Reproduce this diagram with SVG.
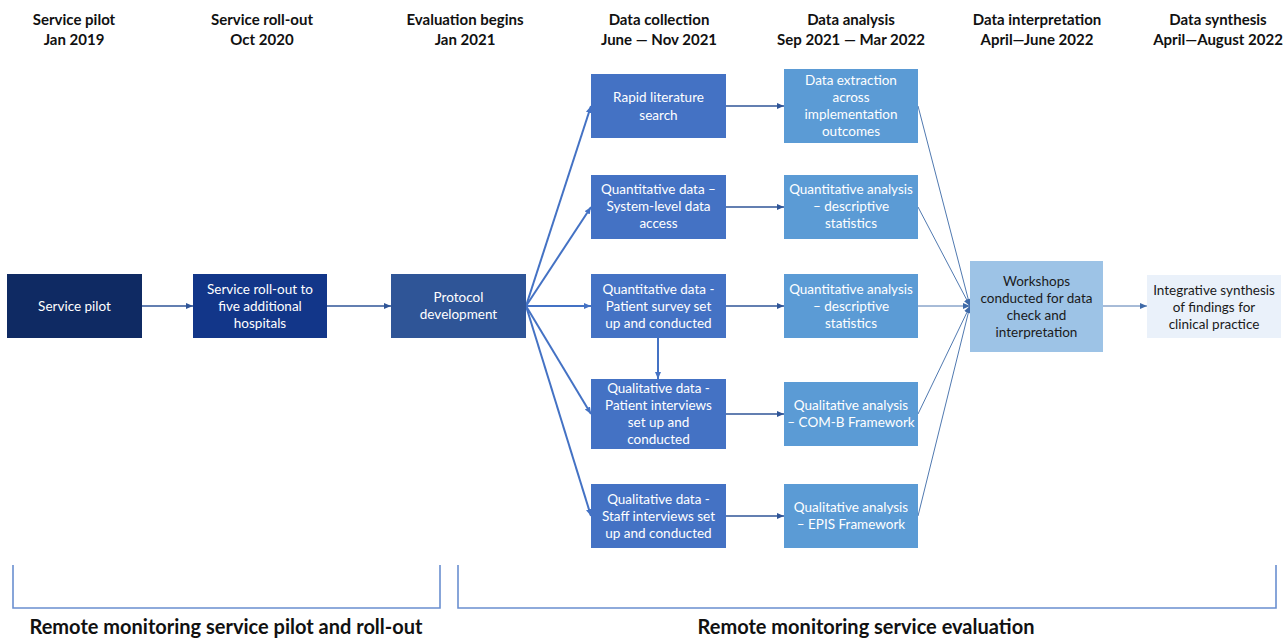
<svg xmlns="http://www.w3.org/2000/svg" width="1288" height="640" viewBox="0 0 1288 640">
<style>
.hdr{font-family:Lato,"Liberation Sans",sans-serif;font-weight:bold;font-size:15px;fill:#111;text-anchor:middle}
.bt{font-family:Lato,"Liberation Sans",sans-serif;font-size:13.5px;fill:#ffffff;text-anchor:middle}
.dt{font-family:Lato,"Liberation Sans",sans-serif;font-size:13.5px;fill:#1a1a1a;text-anchor:middle}
.big{font-family:Lato,"Liberation Sans",sans-serif;font-weight:bold;font-size:20px;fill:#111;text-anchor:middle}
.a1{stroke:#2f5597;stroke-width:1.3;fill:none;marker-end:url(#ah)}
.fan{stroke:#4472c4;stroke-width:2;fill:none;marker-end:url(#ah2)}
.conv{stroke:#5079b0;stroke-width:1;fill:none;marker-end:url(#ah3)}
.br{stroke:#6a8fd0;stroke-width:1.6;fill:none}
</style>
<defs>
<marker id="ah" markerUnits="userSpaceOnUse" markerWidth="8" markerHeight="8" refX="7" refY="4" orient="auto"><path d="M0,1 L7,4 L0,7 z" fill="#2f5597"/></marker>
<marker id="ah2" markerUnits="userSpaceOnUse" markerWidth="8" markerHeight="8" refX="7" refY="4" orient="auto"><path d="M0,1 L7,4 L0,7 z" fill="#4472c4"/></marker>
<marker id="ah3" markerUnits="userSpaceOnUse" markerWidth="8" markerHeight="8" refX="7" refY="4" orient="auto"><path d="M0,1 L7,4 L0,7 z" fill="#3f6aa8"/></marker>
</defs>
<rect width="1288" height="640" fill="#ffffff"/>

<g id="headers">
<text class="hdr" x="74" y="25">Service pilot</text><text class="hdr" x="74" y="45">Jan 2019</text>
<text class="hdr" x="262" y="25">Service roll-out</text><text class="hdr" x="262" y="45">Oct 2020</text>
<text class="hdr" x="465" y="25">Evaluation begins</text><text class="hdr" x="465" y="45">Jan 2021</text>
<text class="hdr" x="659" y="25">Data collection</text><text class="hdr" x="659" y="45">June — Nov 2021</text>
<text class="hdr" x="851" y="25">Data analysis</text><text class="hdr" x="851" y="45">Sep 2021 — Mar 2022</text>
<text class="hdr" x="1037" y="25">Data interpretation</text><text class="hdr" x="1037" y="45">April—June 2022</text>
<text class="hdr" x="1218" y="25">Data synthesis</text><text class="hdr" x="1218" y="45">April—August 2022</text>
</g>

<g id="connectors">
<line class="a1" x1="142" y1="306" x2="193" y2="306"/>
<line class="a1" x1="327" y1="306" x2="391" y2="306"/>
<line class="fan" x1="526" y1="306" x2="591" y2="106"/>
<line class="fan" x1="526" y1="306" x2="591" y2="207"/>
<line class="fan" x1="526" y1="306" x2="591" y2="306"/>
<line class="fan" x1="526" y1="306" x2="591" y2="414"/>
<line class="fan" x1="526" y1="306" x2="591" y2="516"/>
<line class="fan" x1="658" y1="338" x2="658" y2="379"/>
<line class="a1" x1="726" y1="106" x2="784" y2="106"/>
<line class="a1" x1="726" y1="207" x2="784" y2="207"/>
<line class="a1" x1="726" y1="306" x2="784" y2="306"/>
<line class="a1" x1="726" y1="414" x2="784" y2="414"/>
<line class="a1" x1="726" y1="516" x2="784" y2="516"/>
<line class="conv" x1="918" y1="106" x2="970" y2="306"/>
<line class="conv" x1="918" y1="207" x2="970" y2="306"/>
<line class="conv" x1="918" y1="306" x2="970" y2="306"/>
<line class="conv" x1="918" y1="414" x2="970" y2="306"/>
<line class="conv" x1="918" y1="516" x2="970" y2="306"/>
<line class="conv" x1="1103" y1="306" x2="1147" y2="306"/>
</g>

<g id="n-pilot"><rect x="7" y="274" width="135" height="64" fill="#0f2a63"/>
<text class="bt" x="74.5" y="311">Service pilot</text></g>
<g id="n-rollout"><rect x="193" y="274" width="134" height="64" fill="#123689"/>
<text class="bt" x="260" y="294">Service roll-out to</text><text class="bt" x="260" y="311">five additional</text><text class="bt" x="260" y="328">hospitals</text></g>
<g id="n-protocol"><rect x="391" y="274" width="135" height="64" fill="#2f5597"/>
<text class="bt" x="458.5" y="302">Protocol</text><text class="bt" x="458.5" y="319">development</text></g>

<g id="n-rapid"><rect x="591" y="74" width="135" height="64" fill="#4472c4"/>
<text class="bt" x="658.5" y="102">Rapid literature</text><text class="bt" x="658.5" y="120">search</text></g>
<g id="n-qsys"><rect x="591" y="175" width="135" height="64" fill="#4472c4"/>
<text class="bt" x="658.5" y="194">Quantitative data –</text><text class="bt" x="658.5" y="211">System-level data</text><text class="bt" x="658.5" y="228">access</text></g>
<g id="n-qsurvey"><rect x="591" y="274" width="135" height="64" fill="#4472c4"/>
<text class="bt" x="658.5" y="294">Quantitative data -</text><text class="bt" x="658.5" y="311">Patient survey set</text><text class="bt" x="658.5" y="328">up and conducted</text></g>
<g id="n-qpatient"><rect x="591" y="379" width="135" height="70" fill="#4472c4"/>
<text class="bt" x="658.5" y="393">Qualitative data -</text><text class="bt" x="658.5" y="410">Patient interviews</text><text class="bt" x="658.5" y="427">set up and</text><text class="bt" x="658.5" y="444">conducted</text></g>
<g id="n-qstaff"><rect x="591" y="484" width="135" height="64" fill="#4472c4"/>
<text class="bt" x="658.5" y="504">Qualitative data -</text><text class="bt" x="658.5" y="521">Staff interviews set</text><text class="bt" x="658.5" y="538">up and conducted</text></g>

<g id="n-extract"><rect x="784" y="69" width="134" height="74" fill="#5b9bd5"/>
<text class="bt" x="851" y="85">Data extraction</text><text class="bt" x="851" y="102">across</text><text class="bt" x="851" y="119">implementation</text><text class="bt" x="851" y="136">outcomes</text></g>
<g id="n-qa1"><rect x="784" y="175" width="134" height="64" fill="#5b9bd5"/>
<text class="bt" x="851" y="194">Quantitative analysis</text><text class="bt" x="851" y="211">– descriptive</text><text class="bt" x="851" y="228">statistics</text></g>
<g id="n-qa2"><rect x="784" y="274" width="134" height="64" fill="#5b9bd5"/>
<text class="bt" x="851" y="294">Quantitative analysis</text><text class="bt" x="851" y="311">– descriptive</text><text class="bt" x="851" y="328">statistics</text></g>
<g id="n-comb"><rect x="784" y="382" width="134" height="64" fill="#5b9bd5"/>
<text class="bt" x="851" y="410">Qualitative analysis</text><text class="bt" x="851" y="427">– COM-B Framework</text></g>
<g id="n-epis"><rect x="784" y="484" width="134" height="64" fill="#5b9bd5"/>
<text class="bt" x="851" y="512">Qualitative analysis</text><text class="bt" x="851" y="529">– EPIS Framework</text></g>

<g id="n-workshops"><rect x="970" y="261" width="133" height="91" fill="#9dc3e6"/>
<text class="dt" x="1036.5" y="286">Workshops</text><text class="dt" x="1036.5" y="303">conducted for data</text><text class="dt" x="1036.5" y="320">check and</text><text class="dt" x="1036.5" y="337">interpretation</text></g>
<g id="n-synthesis"><rect x="1147" y="275" width="134" height="63" fill="#eaf1fa"/>
<text class="dt" x="1214" y="295">Integrative synthesis</text><text class="dt" x="1214" y="312">of findings for</text><text class="dt" x="1214" y="329">clinical practice</text></g>

<g id="brackets">
<path class="br" d="M13,565 V608 H440 V565"/>
<path class="br" d="M458,565 V608 H1276 V565"/>
<text class="big" x="226" y="634">Remote monitoring service pilot and roll-out</text>
<text class="big" x="866" y="634">Remote monitoring service evaluation</text>
</g>
</svg>
